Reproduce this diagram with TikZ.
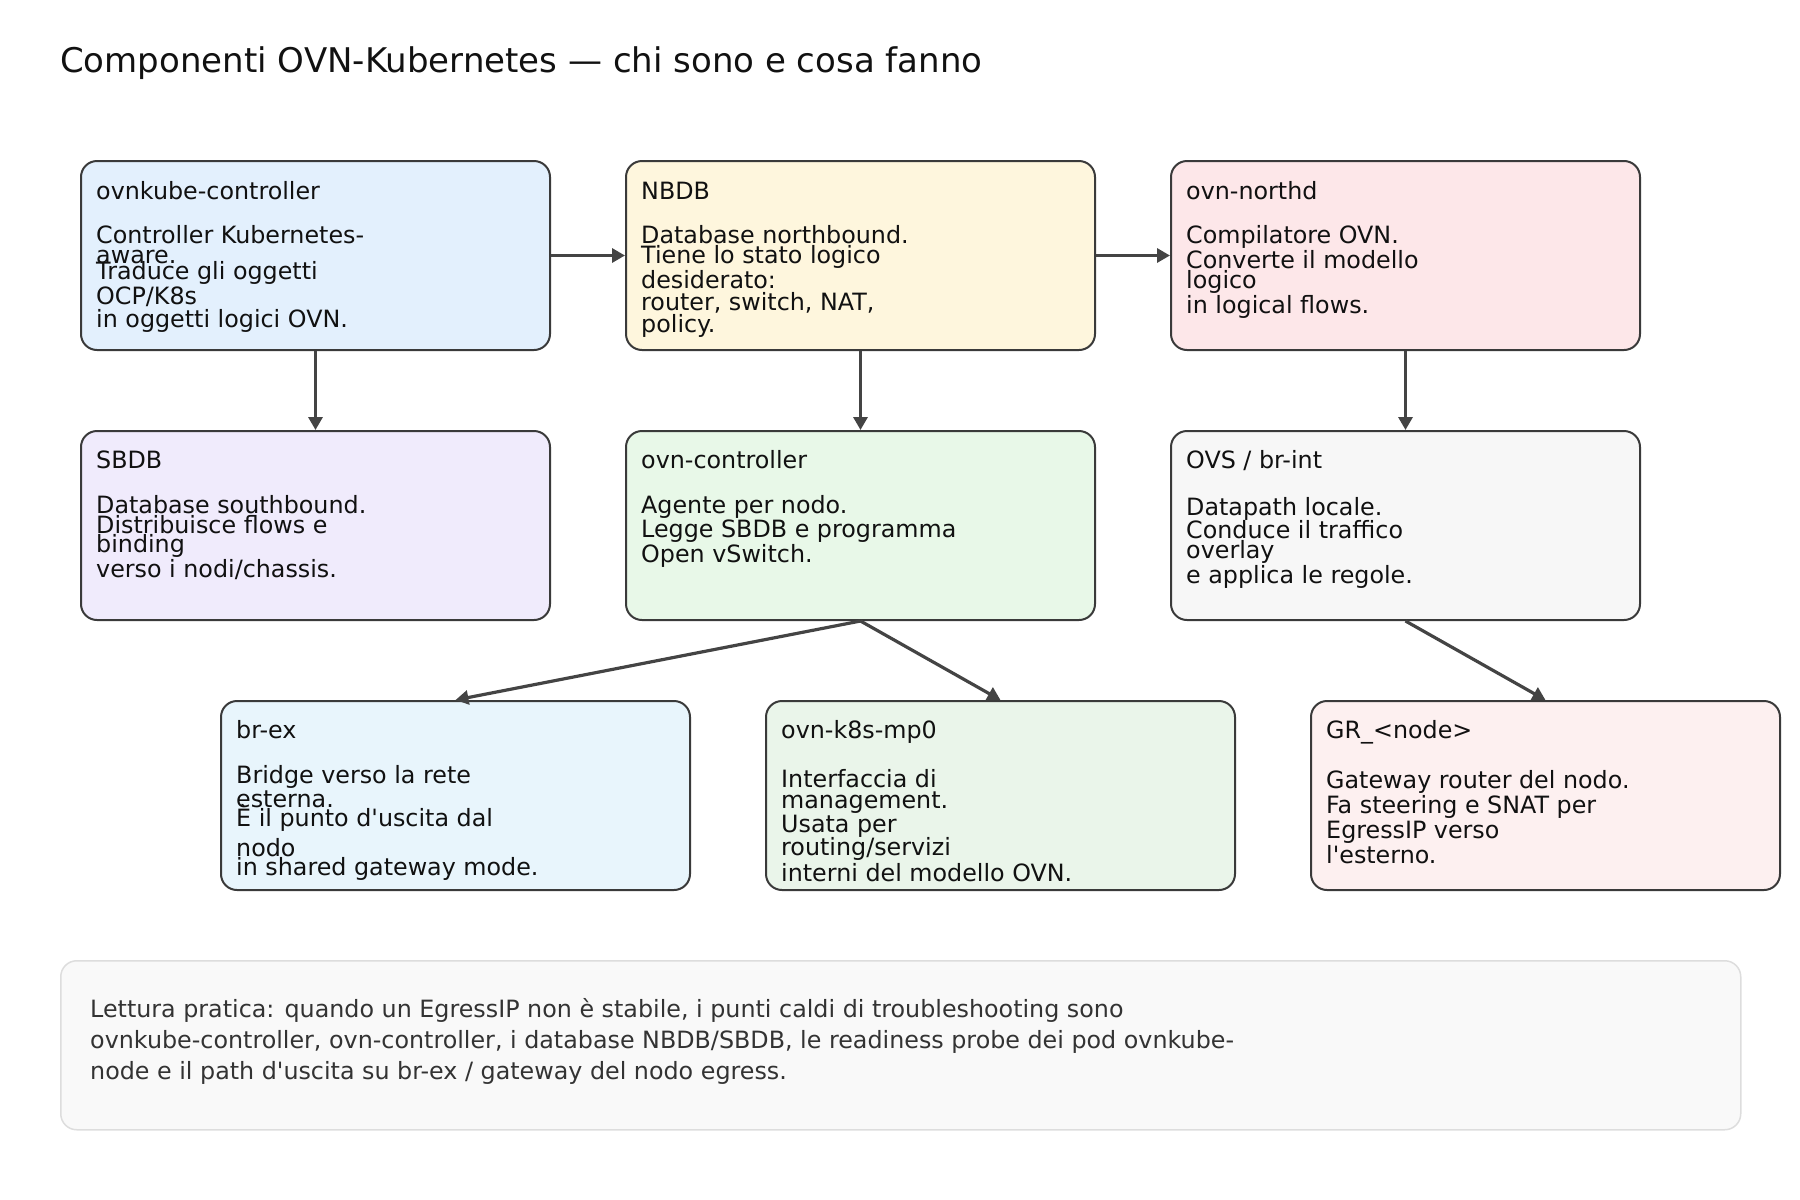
\documentclass[tikz,border=0pt]{standalone}
\usepackage{fontspec}
\setmainfont{DejaVu Sans}[Ligatures=TeXOff]
\usetikzlibrary{arrows.meta}
\definecolor{cA}{HTML}{E3F0FD}
\definecolor{cB}{HTML}{FEF6DD}
\definecolor{cC}{HTML}{FDE7E9}
\definecolor{cD}{HTML}{F0EBFC}
\definecolor{cE}{HTML}{E8F8E8}
\definecolor{cF}{HTML}{F7F7F7}
\definecolor{cG}{HTML}{E8F5FC}
\definecolor{cH}{HTML}{EAF5EA}
\definecolor{cI}{HTML}{FDF0F0}
\definecolor{edge}{HTML}{3A3A3A}
\definecolor{arrc}{HTML}{444444}
\definecolor{txt}{HTML}{111111}
\definecolor{foot}{HTML}{F9F9F9}
\definecolor{footline}{HTML}{DDDDDD}
\definecolor{foottxt}{HTML}{333333}
\newcommand{\bodyfont}{\fontsize{23.8}{28}\selectfont}
\newcommand{\footfont}{\fontsize{23.8}{28}\selectfont}
\newcommand{\titlefont}{\fontsize{34}{40}\selectfont}
\begin{document}
\begin{tikzpicture}[x=1pt,y=-1pt,
  compbox/.style={draw=edge, line width=2pt, rounded corners=16pt, minimum width=469pt, minimum height=189pt, anchor=north west, inner sep=0pt},
  ln/.style={anchor=base west, inner sep=0pt, text=txt, font=\bodyfont},
  fl/.style={anchor=base west, inner sep=0pt, text=foottxt, font=\footfont},
  arr/.style={draw=arrc, line width=3.2pt, -{Triangle[length=13pt,width=14pt]}}]
\useasboundingbox (0,0) rectangle (1800,1200);
% title
\node[anchor=base west, inner sep=0pt, text=txt, font=\titlefont] (title) at (60,72) {Componenti OVN-Kubernetes — chi sono e cosa fanno};
% boxes
\node[compbox, fill=cA] (b1) at (80,160) {};
\node[compbox, fill=cB] (b2) at (625,160) {};
\node[compbox, fill=cC] (b3) at (1170,160) {};
\node[compbox, fill=cD] (b4) at (80,430) {};
\node[compbox, fill=cE] (b5) at (625,430) {};
\node[compbox, fill=cF] (b6) at (1170,430) {};
\node[compbox, fill=cG] (b7) at (220,700) {};
\node[compbox, fill=cH] (b8) at (765,700) {};
\node[compbox, fill=cI] (b9) at (1310,700) {};
% box 1
\node[ln] (t1) at (96,199) {ovnkube-controller};
\node[ln] (t1a) at (96,243) {Controller Kubernetes-};
\node[ln] (t1b) at (96,263) {aware.};
\node[ln] (t1c) at (96,279) {Traduce gli oggetti};
\node[ln] (t1d) at (96,304) {OCP/K8s};
\node[ln] (t1e) at (96,327) {in oggetti logici OVN.};
% box 2
\node[ln] (t2) at (641,199) {NBDB};
\node[ln] (t2a) at (641,243) {Database northbound.};
\node[ln] (t2b) at (641,263) {Tiene lo stato logico};
\node[ln] (t2c) at (641,288) {desiderato:};
\node[ln] (t2d) at (641,310) {router, switch, NAT,};
\node[ln] (t2e) at (641,332) {policy.};
% box 3
\node[ln] (t3) at (1186,199) {ovn-northd};
\node[ln] (t3a) at (1186,243) {Compilatore OVN.};
\node[ln] (t3b) at (1186,268) {Converte il modello};
\node[ln] (t3c) at (1186,288) {logico};
\node[ln] (t3d) at (1186,313) {in logical flows.};
% box 4
\node[ln] (t4) at (96,468) {SBDB};
\node[ln] (t4a) at (96,513) {Database southbound.};
\node[ln] (t4b) at (96,533) {Distribuisce flows e};
\node[ln] (t4c) at (96,552) {binding};
\node[ln] (t4d) at (96,577) {verso i nodi/chassis.};
% box 5
\node[ln] (t5) at (641,468) {ovn-controller};
\node[ln] (t5a) at (641,513) {Agente per nodo.};
\node[ln] (t5b) at (641,537) {Legge SBDB e programma};
\node[ln] (t5c) at (641,562) {Open vSwitch.};
% box 6
\node[ln] (t6) at (1186,468) {OVS / br-int};
\node[ln] (t6a) at (1186,515) {Datapath locale.};
\node[ln] (t6b) at (1186,538) {Conduce il traffico};
\node[ln] (t6c) at (1186,558) {overlay};
\node[ln] (t6d) at (1186,583) {e applica le regole.};
% box 7
\node[ln] (t7) at (236,738) {br-ex};
\node[ln] (t7a) at (236,783) {Bridge verso la rete};
\node[ln] (t7b) at (236,807) {esterna.};
\node[ln] (t7c) at (236,826) {È il punto d'uscita dal};
\node[ln] (t7d) at (236,856) {nodo};
\node[ln] (t7e) at (236,875) {in shared gateway mode.};
% box 8
\node[ln] (t8) at (781,738) {ovn-k8s-mp0};
\node[ln] (t8a) at (781,787) {Interfaccia di};
\node[ln] (t8b) at (781,808) {management.};
\node[ln] (t8c) at (781,832) {Usata per};
\node[ln] (t8d) at (781,855) {routing/servizi};
\node[ln] (t8e) at (781,881) {interni del modello OVN.};
% box 9
\node[ln] (t9) at (1326,738) {GR\_<node>};
\node[ln] (t9a) at (1326,788) {Gateway router del nodo.};
\node[ln] (t9b) at (1326,813) {Fa steering e SNAT per};
\node[ln] (t9c) at (1326,838) {EgressIP verso};
\node[ln] (t9d) at (1326,863) {l'esterno.};
% arrows
\draw[arr] (b1.east) -- (b2.west);
\draw[arr] (b2.east) -- (b3.west);
\draw[arr] (b1.south) -- (b4.north);
\draw[arr] (b2.south) -- (b5.north);
\draw[arr] (b3.south) -- (b6.north);
\draw[arr] (b5.south) -- (b7.north);
\draw[arr] (b5.south) -- (b8.north);
\draw[arr] (b6.south) -- (b9.north);
% footer
\node[draw=footline, fill=foot, line width=1.5pt, rounded corners=16pt, minimum width=1680pt, minimum height=169pt, anchor=north west, inner sep=0pt] (footer) at (60,960) {};
\node[fl] (f1) at (90,1017) {Lettura pratica: quando un EgressIP non è stabile, i punti caldi di troubleshooting sono};
\node[fl] (f2) at (90,1048) {ovnkube-controller, ovn-controller, i database NBDB/SBDB, le readiness probe dei pod ovnkube-};
\node[fl] (f3) at (90,1079) {node e il path d'uscita su br-ex / gateway del nodo egress.};
\end{tikzpicture}
\end{document}
